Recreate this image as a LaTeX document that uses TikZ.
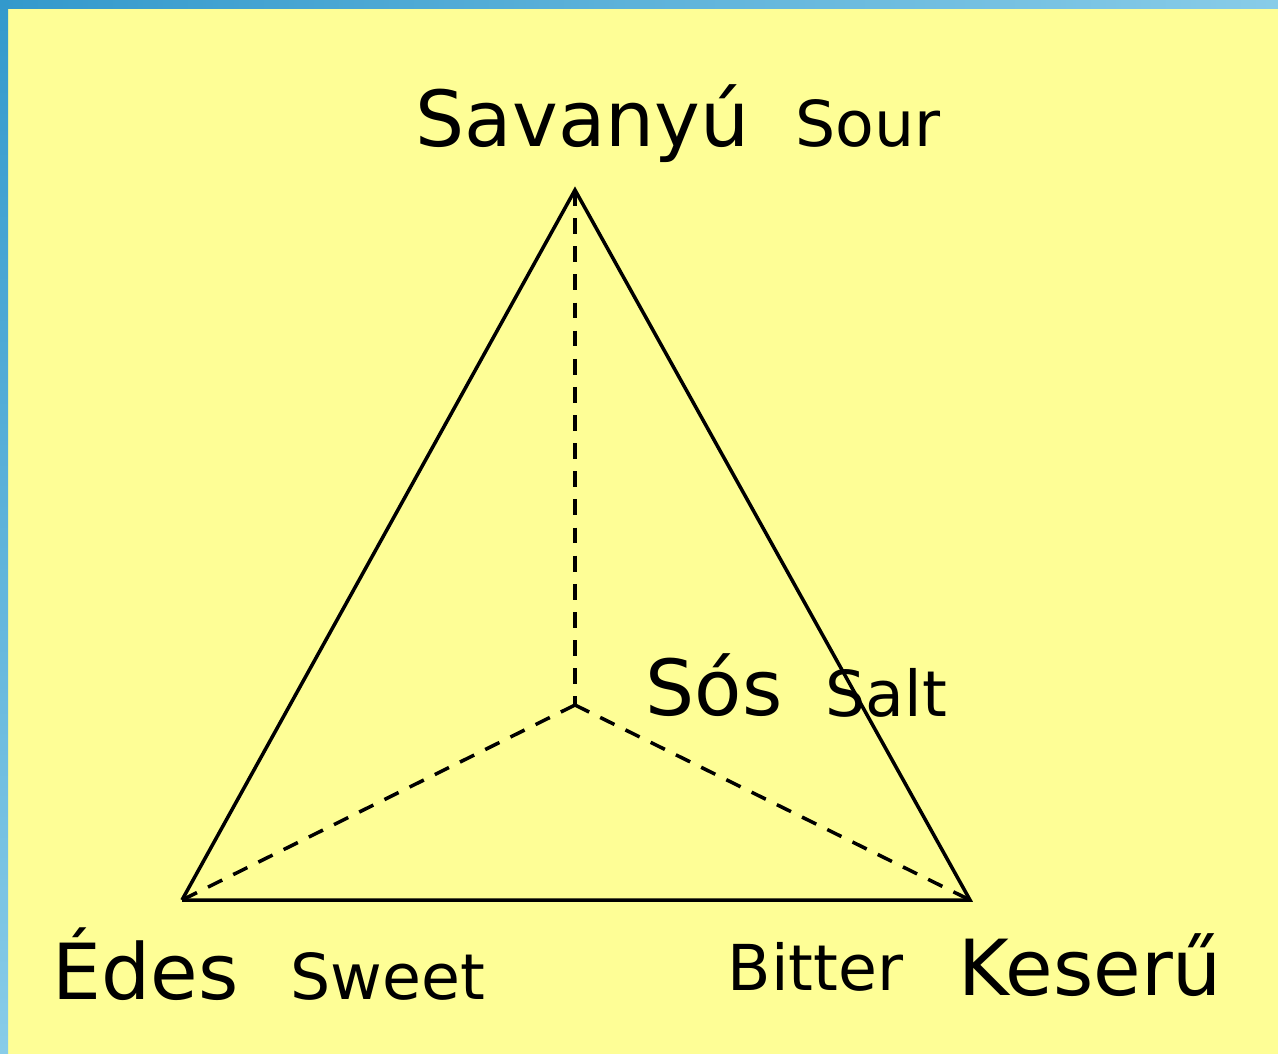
\documentclass[tikz,border=0pt]{standalone}
\usepackage{fontspec}
\setmainfont{DejaVu Sans}
\definecolor{paper}{RGB}{254,254,150}
\definecolor{frameblue}{RGB}{51,153,204}
\definecolor{framelight}{RGB}{136,204,232}

\begin{document}
\begin{tikzpicture}[
  x=0.01cm, y=-0.01cm,
  big/.style={anchor=base west, inner sep=0pt, font=\fontsize{22}{26}\selectfont},
  small/.style={anchor=base west, inner sep=0pt, font=\fontsize{18}{22}\selectfont},
  edge/.style={line width=1pt, draw=black},
  hidden/.style={line width=1pt, draw=black, dash pattern=on 4.5pt off 3.5pt}
]

% background and frame
\useasboundingbox (0,0) rectangle (1278,1054);
\fill[paper] (0,0) rectangle (1278,1054);
\shade[left color=frameblue, right color=framelight] (0,0) rectangle (1278,8);
\shade[top color=frameblue, bottom color=framelight] (0,0) rectangle (8,1054);

\coordinate (sour) at (575,190);
\coordinate (sweet) at (182,900);
\coordinate (bitter) at (970,900);
\coordinate (salt) at (575,705);

\draw[edge] (sweet) -- (sour) -- (bitter) -- (sweet);
\draw[hidden] (sour) -- (salt);
\draw[hidden] (salt) -- (sweet);
\draw[hidden] (salt) -- (bitter);

\node[big] (savanyu) at (415,146) {Savanyú};
\node[small] (sourlbl) at (795,146) {Sour};
\node[big] (sos) at (645,715) {Sós};
\node[small] (saltlbl) at (825,716) {Salt};
\node[big] (edes) at (52,999) {Édes};
\node[small] (sweetlbl) at (290,999) {Sweet};
\node[small] (bitterlbl) at (727,990) {Bitter};
\node[big] (keseru) at (958,995) {Keserű};

\end{tikzpicture}
\end{document}
